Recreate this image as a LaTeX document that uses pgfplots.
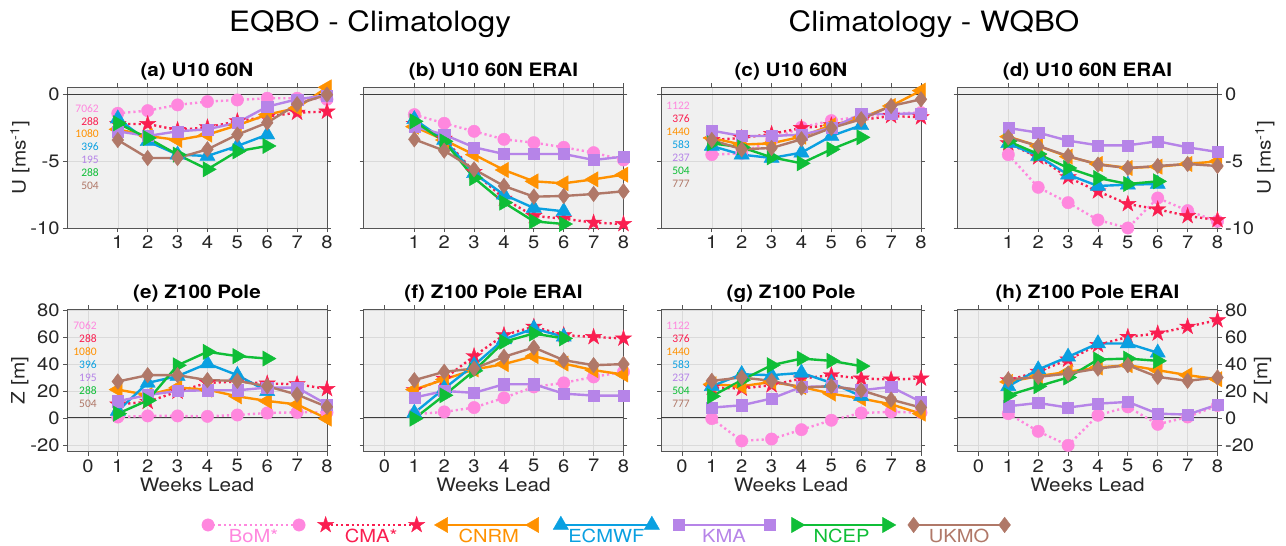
\documentclass[border=0pt]{standalone}
\usepackage{pgfplots}
\pgfplotsset{compat=1.18}
\usepackage{pgfplotstable}
\usetikzlibrary{plotmarks}
\usepackage{fontspec}
\setmainfont{TeX Gyre Heros}[FakeStretch=1.12]
\newfontfamily\carlito{Carlito}

\definecolor{bomc}{RGB}{255,135,222}
\definecolor{cmac}{RGB}{250,30,80}
\definecolor{cnrmc}{RGB}{255,145,0}
\definecolor{ecmwfc}{RGB}{10,160,225}
\definecolor{kmac}{RGB}{182,132,232}
\definecolor{ncepc}{RGB}{15,190,55}
\definecolor{ukmoc}{RGB}{176,120,104}
\definecolor{bgc}{RGB}{240,240,240}
\definecolor{gridc}{RGB}{218,218,218}
\definecolor{axc}{RGB}{85,85,85}
\definecolor{zeroc}{RGB}{60,60,60}

\pgfdeclareplotmark{fstar}{%
  \pgfpathmoveto{\pgfpointpolar{90}{\pgfplotmarksize}}%
  \pgfpathlineto{\pgfpointpolar{126}{0.382\pgfplotmarksize}}%
  \pgfpathlineto{\pgfpointpolar{162}{\pgfplotmarksize}}%
  \pgfpathlineto{\pgfpointpolar{198}{0.382\pgfplotmarksize}}%
  \pgfpathlineto{\pgfpointpolar{234}{\pgfplotmarksize}}%
  \pgfpathlineto{\pgfpointpolar{270}{0.382\pgfplotmarksize}}%
  \pgfpathlineto{\pgfpointpolar{306}{\pgfplotmarksize}}%
  \pgfpathlineto{\pgfpointpolar{342}{0.382\pgfplotmarksize}}%
  \pgfpathlineto{\pgfpointpolar{18}{\pgfplotmarksize}}%
  \pgfpathlineto{\pgfpointpolar{54}{0.382\pgfplotmarksize}}%
  \pgfpathclose
  \pgfusepathqfillstroke
}

\tikzset{
 dotl/.style={dash pattern=on 2.2pt off 3pt},
 bom/.style={color=bomc, line width=2.4pt, dotl, mark=*, mark size=6.2pt, mark options={solid, line width=0.4pt, fill=bomc}},
 cma/.style={color=cmac, line width=2.4pt, dotl, mark=fstar, mark size=8.5pt, mark options={solid, line width=0.4pt, fill=cmac}},
 cnrm/.style={color=cnrmc, line width=2.4pt, mark=triangle*, mark size=8.8pt, mark options={solid, line width=0.4pt, fill=cnrmc, rotate=90}},
 ecmwf/.style={color=ecmwfc, line width=2.4pt, mark=triangle*, mark size=8.8pt, mark options={solid, line width=0.4pt, fill=ecmwfc}},
 kma/.style={color=kmac, line width=2.4pt, mark=square*, mark size=5.6pt, mark options={solid, line width=0.4pt, fill=kmac}},
 ncep/.style={color=ncepc, line width=2.4pt, mark=triangle*, mark size=8.8pt, mark options={solid, line width=0.4pt, fill=ncepc, rotate=-90}},
 ukmo/.style={color=ukmoc, line width=2.4pt, mark=diamond*, mark size=7.8pt, mark options={solid, line width=0.4pt, fill=ukmoc}},
}

\pgfplotsset{
 panel/.style={
  scale only axis, width=260pt, anchor=north west,
  xmin=-0.7, xmax=8, clip=false,
  axis background/.style={fill=bgc},
  grid=major, grid style={gridc, line width=0.6pt},
  axis line style={axc, line width=0.8pt},
  major tick style={axc, line width=0.8pt},
  major tick length=4pt, tick align=outside,
  xtick pos=both, ytick pos=both, xticklabel pos=left,
  ticklabel style={font=\fontsize{18}{20}\selectfont, text=black!85},
  title style={font=\bfseries\fontsize{18.5}{20}\selectfont, at={(axis description cs:0.5,1)}, anchor=base, yshift=5pt},
  label style={font=\fontsize{18.5}{20}\selectfont, text=black!85},
 },
 toprow/.style={height=140.7pt, ymin=-10, ymax=0.55, ytick={-10,-5,0}, yticklabels={-10,-5,0},
  xtick={1,...,8}, xticklabels={1,2,3,4,5,6,7,8}},
 botrow/.style={height=142.4pt, ymin=-25, ymax=80.5, ytick={-20,0,20,40,60,80}, yticklabels={-20,0,20,40,60,80},
  xtick={0,...,8}, xticklabels={0,1,2,3,4,5,6,7,8}, xlabel={Weeks Lead},
  xlabel style={at={(axis description cs:0.5,-0.281)}, anchor=base}},
 leftlab/.style={yticklabel pos=left, ylabel style={at={(axis description cs:-0.181,0.5)}, anchor=center}},
 rightlab/.style={yticklabel pos=right, ylabel style={at={(axis description cs:1.182,0.5)}, anchor=center}},
 nolab/.style={yticklabels={}},
}

\newcommand{\plotall}[1]{%
\draw[zeroc, line width=1pt] (axis cs:-0.7,0) -- (axis cs:8,0);
\addplot[bom] table[x=w,y=bom]{#1};
\addplot[cma] table[x=w,y=cma]{#1};
\addplot[cnrm] table[x=w,y=cnrm]{#1};
\addplot[ecmwf] table[x=w,y=ecmwf]{#1};
\addplot[kma] table[x=w,y=kma]{#1};
\addplot[ncep] table[x=w,y=ncep]{#1};
\addplot[ukmo] table[x=w,y=ukmo]{#1};
}
\newcommand{\cnt}[4]{\node[anchor=east, font=\carlito\fontsize{11.5}{13}\selectfont, text=#1, inner sep=0pt] at (axis cs:#2,#3) {#4};}

\pgfplotstableread{
w bom cma cnrm ecmwf kma ncep ukmo
1 -1.4 -2.2 -2.6 -1.8 -2.75 -2.15 -3.4
2 -1.2 -2.2 -3.1 -3.5 -3.1 -3.25 -4.75
3 -0.77 -2.65 -3.4 -4.5 -2.75 -4.5 -4.75
4 -0.52 -2.45 -3.0 -4.6 -2.6 -5.6 -4.1
5 -0.4 -2.0 -2.3 -3.85 -2.1 -4.25 -3.0
6 -0.27 -1.65 -1.5 -3.0 -0.9 -3.85 -2.1
7 -0.27 -1.35 -1.0 nan -0.35 nan -0.72
8 -0.35 -1.27 0.55 nan -0.05 nan 0.0
}\tabA
\pgfplotstableread{
w bom cma cnrm ecmwf kma ncep ukmo
1 -1.5 -2.2 -2.4 -1.85 -2.4 -2.0 -3.35
2 -2.15 -3.3 -3.4 -3.4 -3.0 -3.5 -4.2
3 -2.75 -5.8 -4.5 -5.9 -3.95 -6.25 -5.6
4 -3.35 -7.8 -5.65 -7.5 -4.45 -8.1 -6.85
5 -3.6 -9.1 -6.5 -8.5 -4.45 -9.5 -7.65
6 -3.95 -9.3 -6.65 -8.75 -4.45 -9.7 -7.6
7 -4.35 -9.6 -6.35 nan -4.9 nan -7.45
8 -4.9 -9.7 -6.0 nan -4.65 nan -7.25
}\tabB
\pgfplotstableread{
w bom cma cnrm ecmwf kma ncep ukmo
1 -4.5 -3.4 -3.25 -3.85 -2.7 -3.65 -3.4
2 -4.4 -3.25 -3.75 -4.5 -3.1 -3.95 -4.1
3 -3.4 -2.95 -3.65 -4.75 -3.1 -4.7 -4.0
4 -2.45 -2.5 -3.15 -4.35 -3.0 -5.15 -3.35
5 -1.95 -2.3 -2.3 -3.1 -2.5 -4.1 -2.5
6 -1.65 -1.9 -1.75 -2.3 -1.45 -3.2 -1.85
7 -1.4 -1.6 -0.85 nan -1.45 nan -0.85
8 -1.35 -1.7 0.3 nan -1.4 nan -0.35
}\tabC
\pgfplotstableread{
w bom cma cnrm ecmwf kma ncep ukmo
1 -4.5 -3.65 -3.15 -3.65 -2.5 -3.5 -3.2
2 -6.95 -4.7 -3.85 -4.6 -2.85 -4.45 -3.85
3 -8.1 -6.2 -4.65 -6.0 -3.45 -5.5 -4.6
4 -9.4 -7.25 -5.2 -6.85 -3.8 -6.25 -5.25
5 -10.0 -8.2 -5.5 -6.75 -3.8 -6.7 -5.5
6 -7.75 -8.6 -5.4 -6.7 -3.5 -6.5 -5.35
7 -8.7 -9.1 -5.2 nan -3.95 nan -5.2
8 -9.5 -9.4 -5.0 nan -4.3 nan -5.35
}\tabD
\pgfplotstableread{
w bom cma cnrm ecmwf kma ncep ukmo
1 0.7 10 21 5.2 12.4 3.2 27
2 1.5 12 17 26 17 13 31.7
3 1.5 19.5 22.5 31 20 39 31.7
4 1.2 26 21 40.3 20.5 49 28
5 2.2 27 16 31.7 20.5 45.8 27.5
6 3.7 25.5 12.6 19.8 22.5 44 23.5
7 4.2 25 10 nan 22.5 nan 17.3
8 4.2 21.5 -0.5 nan 10 nan 8.2
}\tabE
\pgfplotstableread{
w bom cma cnrm ecmwf kma ncep ukmo
1 2.7 20.5 21 3.7 15.1 -0.5 28
2 4.5 29 28.5 21.8 20 16.8 34.2
3 7.7 45.8 35.9 39.1 18.6 34.9 36.6
4 14.9 61.4 39.9 58.2 25 56.4 45.3
5 23 67.6 45.8 66.3 25 62.6 52.2
6 26 61.4 40.3 60.1 18 58.9 42.8
7 30.4 60 35.4 nan 16.6 nan 39.1
8 34.2 58.9 32.2 nan 16.6 nan 39.9
}\tabF
\pgfplotstableread{
w bom cma cnrm ecmwf kma ncep ukmo
1 -0.5 22.5 25 23.5 7.7 16.1 27.5
2 -17 21.8 23.5 32.4 9.4 28 30
3 -15.6 24.3 26.7 31.7 14.4 39.1 27.5
4 -8.7 29.2 23 33.4 23 44 22.5
5 -1.7 31.7 18 26 23.5 42.3 23.5
6 3.7 29.2 14.4 16.1 20.5 38.4 20.5
7 4.5 28.5 10.1 nan 23 nan 13.6
8 4.0 29.2 3.2 nan 11.9 nan 7.7
}\tabG
\pgfplotstableread{
w bom cma cnrm ecmwf kma ncep ukmo
1 3.2 28 26.7 23.5 8.7 16.8 28.5
2 -9.9 34.2 31 35.9 11.1 23.5 30.4
3 -20.3 43.3 34.2 45.3 7.7 30 32.9
4 2 54 37.4 55.2 10.6 43.3 36.6
5 8.2 60.1 39.1 55.2 11.9 44 39.1
6 -4.7 62.6 35.4 48.3 3.2 42.3 30.4
7 0.7 67.6 31.7 nan 2.5 nan 27.5
8 9.2 72.5 28.7 nan 9.9 nan 30
}\tabH

\newcommand{\legimg}[3]{\addlegendimage{legend image code/.code={%
 \path[draw=none, fill=none] (-12.8pt,-20pt) rectangle (103.8pt,10pt);
 \draw[#1] plot coordinates {(0pt,0pt) (91pt,0pt)};
 \node[text=#2, font=\fontsize{18}{20}\selectfont, anchor=base, inner sep=0pt, draw=none, fill=none] at (45.5pt,-18pt) {#3};}}
 \addlegendentry{}}

\begin{document}
\begin{tikzpicture}
\useasboundingbox (0pt,0pt) rectangle (1286pt,-546pt);
\node[font=\fontsize{28}{30}\selectfont, anchor=base] at (370pt,-31pt) {EQBO - Climatology};
\node[font=\fontsize{28}{30}\selectfont, anchor=base] at (934pt,-31pt) {Climatology - WQBO};

% (a)
\begin{axis}[panel, toprow, leftlab, at={(67pt,-87.3pt)}, ylabel={U [ms\textsuperscript{-1}]}, title={(a) U10 60N}]
\plotall{\tabA}
\cnt{bomc}{0.37}{-1.02}{7062}
\cnt{cmac}{0.37}{-2.03}{288}
\cnt{cnrmc}{0.37}{-2.93}{1080}
\cnt{ecmwfc}{0.37}{-3.93}{396}
\cnt{kmac}{0.37}{-4.9}{195}
\cnt{ncepc}{0.37}{-5.85}{288}
\cnt{ukmoc}{0.37}{-6.85}{504}
\end{axis}
% (b)
\begin{axis}[panel, toprow, nolab, at={(363.5pt,-87.3pt)}, title={(b) U10 60N ERAI}]
\plotall{\tabB}
\end{axis}
% (c)
\begin{axis}[panel, toprow, nolab, at={(661pt,-87.3pt)}, title={(c) U10 60N}]
\plotall{\tabC}
\cnt{bomc}{0.27}{-0.83}{1122}
\cnt{cmac}{0.27}{-1.83}{376}
\cnt{cnrmc}{0.27}{-2.78}{1440}
\cnt{ecmwfc}{0.27}{-3.73}{583}
\cnt{kmac}{0.27}{-4.73}{237}
\cnt{ncepc}{0.27}{-5.7}{504}
\cnt{ukmoc}{0.27}{-6.7}{777}
\end{axis}
% (d)
\begin{axis}[panel, toprow, rightlab, at={(957.5pt,-87.3pt)}, ylabel={U [ms\textsuperscript{-1}]}, title={(d) U10 60N ERAI}]
\plotall{\tabD}
\end{axis}
% (e)
\begin{axis}[panel, botrow, leftlab, at={(67pt,-309.3pt)}, ylabel={Z [m]}, title={(e) Z100 Pole}]
\plotall{\tabE}
\cnt{bomc}{0.30}{68.4}{7062}
\cnt{cmac}{0.30}{58.5}{288}
\cnt{cnrmc}{0.30}{49.1}{1080}
\cnt{ecmwfc}{0.30}{39.3}{396}
\cnt{kmac}{0.30}{29.8}{195}
\cnt{ncepc}{0.30}{20.0}{288}
\cnt{ukmoc}{0.30}{10.4}{504}
\end{axis}
% (f)
\begin{axis}[panel, botrow, nolab, at={(363.5pt,-309.3pt)}, title={(f) Z100 Pole ERAI}]
\plotall{\tabF}
\end{axis}
% (g)
\begin{axis}[panel, botrow, nolab, at={(661pt,-309.3pt)}, title={(g) Z100 Pole}]
\plotall{\tabG}
\cnt{bomc}{0.27}{68.4}{1122}
\cnt{cmac}{0.27}{58.5}{376}
\cnt{cnrmc}{0.27}{49.1}{1440}
\cnt{ecmwfc}{0.27}{39.3}{583}
\cnt{kmac}{0.27}{29.8}{237}
\cnt{ncepc}{0.27}{20.0}{504}
\cnt{ukmoc}{0.27}{10.4}{777}
\end{axis}
% (h)
\begin{axis}[panel, botrow, rightlab, at={(957.5pt,-309.3pt)}, ylabel={Z [m]}, title={(h) Z100 Pole ERAI},
  ylabel style={at={(axis description cs:1.173,0.5)}}]
\plotall{\tabH}
\end{axis}

% legend
\begin{axis}[at={(0pt,-546pt)}, anchor=south west, scale only axis, width=1286pt, height=546pt,
  hide axis, xmin=0, xmax=1, ymin=0, ymax=1,
  legend columns=7,
  legend style={draw=none, fill=none, at={(0.4719,0.02935)}, anchor=center, inner sep=0pt, outer sep=0pt,
    column sep=0pt, row sep=0pt, nodes={inner sep=0pt, outer sep=0pt}}]
\legimg{bom}{bomc}{BoM*}
\legimg{cma}{cmac}{CMA*}
\legimg{cnrm}{cnrmc}{CNRM}
\legimg{ecmwf}{ecmwfc}{ECMWF}
\legimg{kma}{kmac}{KMA}
\legimg{ncep}{ncepc}{NCEP}
\legimg{ukmo}{ukmoc}{UKMO}
\end{axis}
\end{tikzpicture}
\end{document}
